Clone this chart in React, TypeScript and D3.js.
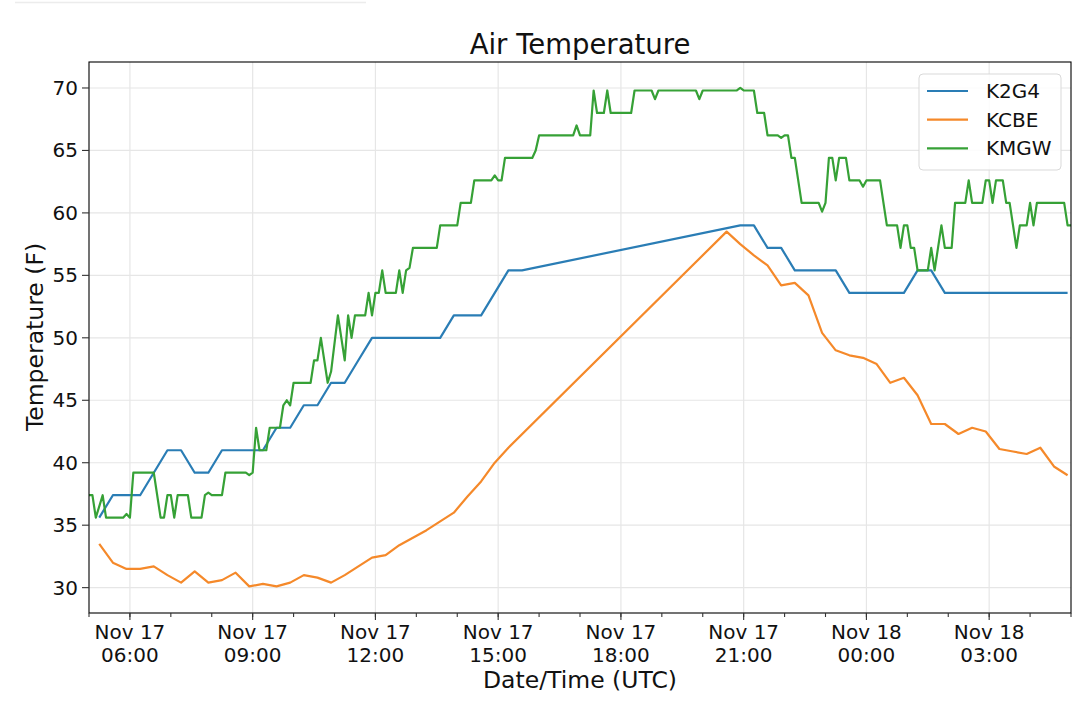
import { useEffect, useRef } from "react";
import * as d3 from "d3";

type Obs = [string, number];

// times are Nov <day>T<hh:mm> UTC, values in deg F
const k2g4Temps: Obs[] = [
  ["17T05:15", 35.6], ["17T05:35", 37.4], ["17T05:55", 37.4], ["17T06:15", 37.4],
  ["17T06:35", 39.2], ["17T06:55", 41.0], ["17T07:15", 41.0], ["17T07:35", 39.2],
  ["17T07:55", 39.2], ["17T08:15", 41.0], ["17T08:35", 41.0], ["17T08:55", 41.0],
  ["17T09:15", 41.0], ["17T09:35", 42.8], ["17T09:55", 42.8], ["17T10:15", 44.6],
  ["17T10:35", 44.6], ["17T10:55", 46.4], ["17T11:15", 46.4], ["17T11:35", 48.2],
  ["17T11:55", 50.0], ["17T12:15", 50.0], ["17T12:35", 50.0], ["17T12:55", 50.0],
  ["17T13:15", 50.0], ["17T13:35", 50.0], ["17T13:55", 51.8], ["17T14:15", 51.8],
  ["17T14:35", 51.8], ["17T14:55", 53.6], ["17T15:15", 55.4], ["17T15:35", 55.4],
  ["17T20:55", 59.0], ["17T21:15", 59.0], ["17T21:35", 57.2], ["17T21:55", 57.2],
  ["17T22:15", 55.4], ["17T22:35", 55.4], ["17T22:55", 55.4], ["17T23:15", 55.4],
  ["17T23:35", 53.6], ["17T23:55", 53.6], ["18T00:15", 53.6], ["18T00:35", 53.6],
  ["18T00:55", 53.6], ["18T01:15", 55.4], ["18T01:35", 55.4], ["18T01:55", 53.6],
  ["18T02:15", 53.6], ["18T02:35", 53.6], ["18T02:55", 53.6], ["18T03:15", 53.6],
  ["18T03:35", 53.6], ["18T03:55", 53.6], ["18T04:15", 53.6], ["18T04:35", 53.6],
  ["18T04:55", 53.6],
];

const kcbeTemps: Obs[] = [
  ["17T05:15", 33.5], ["17T05:35", 32.0], ["17T05:55", 31.5], ["17T06:15", 31.5],
  ["17T06:35", 31.7], ["17T06:55", 31.0], ["17T07:15", 30.4], ["17T07:35", 31.3],
  ["17T07:55", 30.4], ["17T08:15", 30.6], ["17T08:35", 31.2], ["17T08:55", 30.1],
  ["17T09:15", 30.3], ["17T09:35", 30.1], ["17T09:55", 30.4], ["17T10:15", 31.0],
  ["17T10:35", 30.8], ["17T10:55", 30.4], ["17T11:15", 31.0], ["17T11:35", 31.7],
  ["17T11:55", 32.4], ["17T12:15", 32.6], ["17T12:35", 33.4], ["17T12:55", 34.0],
  ["17T13:15", 34.6], ["17T13:35", 35.3], ["17T13:55", 36.0], ["17T14:15", 37.3],
  ["17T14:35", 38.5], ["17T14:55", 40.0], ["17T15:15", 41.2], ["17T20:35", 58.5],
  ["17T20:55", 57.5], ["17T21:15", 56.6], ["17T21:35", 55.8], ["17T21:55", 54.2],
  ["17T22:15", 54.4], ["17T22:35", 53.4], ["17T22:55", 50.4], ["17T23:15", 49.0],
  ["17T23:35", 48.6], ["17T23:55", 48.4], ["18T00:15", 47.9], ["18T00:35", 46.4],
  ["18T00:55", 46.8], ["18T01:15", 45.4], ["18T01:35", 43.1], ["18T01:55", 43.1],
  ["18T02:15", 42.3], ["18T02:35", 42.8], ["18T02:55", 42.5], ["18T03:15", 41.1],
  ["18T03:35", 40.9], ["18T03:55", 40.7], ["18T04:15", 41.2], ["18T04:35", 39.7],
  ["18T04:55", 39.0],
];

const kmgwTemps: Obs[] = [
  ["17T05:00", 37.4], ["17T05:05", 37.4], ["17T05:10", 35.6], ["17T05:20", 37.4],
  ["17T05:25", 35.6], ["17T05:50", 35.6], ["17T05:55", 35.9], ["17T06:00", 35.6],
  ["17T06:05", 39.2], ["17T06:35", 39.2], ["17T06:45", 35.6], ["17T06:50", 35.6],
  ["17T06:55", 37.4], ["17T07:00", 37.4], ["17T07:05", 35.6], ["17T07:10", 37.4],
  ["17T07:25", 37.4], ["17T07:30", 35.6], ["17T07:45", 35.6], ["17T07:50", 37.4],
  ["17T07:55", 37.6], ["17T08:00", 37.4], ["17T08:15", 37.4], ["17T08:20", 39.2],
  ["17T08:50", 39.2], ["17T08:55", 39.0], ["17T09:00", 39.2], ["17T09:05", 42.8],
  ["17T09:10", 41.0], ["17T09:20", 41.0], ["17T09:25", 42.8], ["17T09:40", 42.8],
  ["17T09:45", 44.6], ["17T09:50", 45.0], ["17T09:55", 44.6], ["17T10:00", 46.4],
  ["17T10:25", 46.4], ["17T10:30", 48.2], ["17T10:35", 48.2], ["17T10:40", 50.0],
  ["17T10:50", 46.4], ["17T10:55", 47.3], ["17T11:05", 51.8], ["17T11:15", 48.2],
  ["17T11:20", 51.8], ["17T11:25", 50.0], ["17T11:30", 51.8], ["17T11:45", 51.8],
  ["17T11:50", 53.6], ["17T11:55", 51.8], ["17T12:00", 53.6], ["17T12:05", 53.6],
  ["17T12:10", 55.4], ["17T12:15", 53.6], ["17T12:30", 53.6], ["17T12:35", 55.4],
  ["17T12:40", 53.6], ["17T12:45", 55.4], ["17T12:50", 55.6], ["17T12:55", 57.2],
  ["17T13:30", 57.2], ["17T13:35", 59.0], ["17T14:00", 59.0], ["17T14:05", 60.8],
  ["17T14:20", 60.8], ["17T14:25", 62.6], ["17T14:50", 62.6], ["17T14:55", 63.0],
  ["17T15:00", 62.6], ["17T15:05", 62.6], ["17T15:10", 64.4], ["17T15:50", 64.4],
  ["17T15:55", 65.0], ["17T16:00", 66.2], ["17T16:50", 66.2], ["17T16:55", 67.0],
  ["17T17:00", 66.2], ["17T17:15", 66.2], ["17T17:20", 69.8], ["17T17:25", 68.0],
  ["17T17:35", 68.0], ["17T17:40", 69.8], ["17T17:45", 68.0], ["17T18:15", 68.0],
  ["17T18:20", 69.8], ["17T18:45", 69.8], ["17T18:50", 69.1], ["17T18:55", 69.8],
  ["17T19:50", 69.8], ["17T19:55", 69.1], ["17T20:00", 69.8], ["17T20:50", 69.8],
  ["17T20:55", 70.0], ["17T21:00", 69.8], ["17T21:15", 69.8], ["17T21:20", 68.0],
  ["17T21:30", 68.0], ["17T21:35", 66.2], ["17T21:50", 66.2], ["17T21:55", 66.0],
  ["17T22:00", 66.2], ["17T22:05", 66.2], ["17T22:10", 64.4], ["17T22:15", 64.4],
  ["17T22:25", 60.8], ["17T22:50", 60.8], ["17T22:55", 60.1], ["17T23:00", 60.8],
  ["17T23:05", 64.4], ["17T23:10", 64.4], ["17T23:15", 62.6], ["17T23:20", 64.4],
  ["17T23:30", 64.4], ["17T23:35", 62.6], ["17T23:50", 62.6], ["17T23:55", 62.1],
  ["18T00:00", 62.6], ["18T00:20", 62.6], ["18T00:30", 59.0], ["18T00:45", 59.0],
  ["18T00:50", 57.2], ["18T00:55", 59.0], ["18T01:00", 59.0], ["18T01:05", 57.2],
  ["18T01:10", 57.2], ["18T01:15", 55.4], ["18T01:30", 55.4], ["18T01:35", 57.2],
  ["18T01:40", 55.4], ["18T01:50", 59.0], ["18T01:55", 57.2], ["18T02:05", 57.2],
  ["18T02:10", 60.8], ["18T02:25", 60.8], ["18T02:30", 62.6], ["18T02:35", 60.8],
  ["18T02:50", 60.8], ["18T02:55", 62.6], ["18T03:00", 62.6], ["18T03:05", 60.8],
  ["18T03:10", 62.6], ["18T03:20", 62.6], ["18T03:25", 60.8], ["18T03:30", 60.8],
  ["18T03:40", 57.2], ["18T03:45", 59.0], ["18T03:55", 59.0], ["18T04:00", 60.8],
  ["18T04:05", 59.0], ["18T04:10", 60.8], ["18T04:50", 60.8], ["18T04:55", 59.0],
  ["18T05:00", 59.0],
];

const stations = ["K2G4", "KCBE", "KMGW"];
const stationColors = ["#2a7db5", "#f5892a", "#36a136"];
const yTicks = [30, 35, 40, 45, 50, 55, 60, 65, 70];
const timeRange = ["17T05:00", "18T05:00"];

const parseTime = d3.utcParse("%Y-%m-%dT%H:%M");
const at = (s: string) => parseTime("2019-11-" + s) as Date;

export default function App() {
  const ref = useRef<SVGSVGElement>(null);

  useEffect(() => {
    if (!ref.current) return;
    document.body.style.margin = "0";
    const svg = d3.select(ref.current);
    svg.selectAll("*").remove();
    const width = 1080;
    const height = 714;
    const margin = { top: 62, right: 9, bottom: 101, left: 89 };
    const font = "DejaVu Sans, sans-serif";

    const x = d3
      .scaleUtc()
      .domain([at(timeRange[0]), at(timeRange[1])])
      .range([margin.left, width - margin.right]);
    const y = d3
      .scaleLinear()
      .domain([27.97, 72.08])
      .range([height - margin.bottom, margin.top]);

    svg.append("rect").attr("width", width).attr("height", height).attr("fill", "#fff");
    // faint stray line along the top of the screenshot
    svg.append("line").attr("x1", 15).attr("x2", 366).attr("y1", 2.5).attr("y2", 2.5)
      .attr("stroke", "#ececec").attr("stroke-width", 1.5);

    const majors = d3.utcHour.every(3)!.range(at("17T06:00"), at("18T05:01"));
    const minors = d3.utcHour.every(1)!.range(at("17T05:00"), at("18T05:01"));

    const grid = svg.append("g").attr("stroke", "#e6e6e6").attr("stroke-width", 1.2);
    majors.forEach((t) => {
      grid.append("line").attr("x1", x(t)).attr("x2", x(t))
        .attr("y1", margin.top).attr("y2", height - margin.bottom);
    });
    yTicks.forEach((v) => {
      grid.append("line").attr("x1", margin.left).attr("x2", width - margin.right)
        .attr("y1", y(v)).attr("y2", y(v));
    });

    const line = d3
      .line<Obs>()
      .x((d) => x(at(d[0])))
      .y((d) => y(d[1]));

    [k2g4Temps, kcbeTemps, kmgwTemps].forEach((series, i) => {
      svg.append("path").datum(series).attr("d", line)
        .attr("fill", "none").attr("stroke", stationColors[i])
        .attr("stroke-width", 2.2).attr("stroke-linejoin", "round");
    });

    // frame
    svg.append("rect").attr("x", margin.left).attr("y", margin.top)
      .attr("width", width - margin.left - margin.right)
      .attr("height", height - margin.top - margin.bottom)
      .attr("fill", "none").attr("stroke", "#000").attr("stroke-width", 1.1);

    const axisY0 = height - margin.bottom;
    const ticks = svg.append("g").attr("stroke", "#333").attr("stroke-width", 1.1);
    minors.forEach((t) => {
      ticks.append("line").attr("x1", x(t)).attr("x2", x(t)).attr("y1", axisY0).attr("y2", axisY0 + 4);
    });
    majors.forEach((t) => {
      ticks.append("line").attr("x1", x(t)).attr("x2", x(t)).attr("y1", axisY0).attr("y2", axisY0 + 7);
    });
    yTicks.forEach((v) => {
      ticks.append("line").attr("x1", margin.left - 7).attr("x2", margin.left).attr("y1", y(v)).attr("y2", y(v));
    });

    const fmtDay = d3.utcFormat("%b %d");
    const fmtHour = d3.utcFormat("%H:%M");
    const xl = svg.append("g").attr("font-family", font).attr("font-size", 20)
      .attr("text-anchor", "middle").attr("fill", "#111");
    majors.forEach((t) => {
      const txt = xl.append("text").attr("x", x(t)).attr("y", axisY0 + 26);
      txt.append("tspan").attr("x", x(t)).text(fmtDay(t));
      txt.append("tspan").attr("x", x(t)).attr("dy", 23).text(fmtHour(t));
    });

    svg.append("g").attr("font-family", font).attr("font-size", 20)
      .attr("text-anchor", "end").attr("fill", "#111")
      .selectAll("text").data(yTicks).enter().append("text")
      .attr("x", margin.left - 11).attr("y", (d) => y(d)).attr("dy", "0.35em")
      .text((d) => d);

    svg.append("text").attr("x", 580).attr("y", 54).attr("text-anchor", "middle")
      .attr("font-family", font).attr("font-size", 27.5).attr("fill", "#111")
      .text("Air Temperature");
    svg.append("text").attr("x", 580).attr("y", 688).attr("text-anchor", "middle")
      .attr("font-family", font).attr("font-size", 23.5).attr("fill", "#111")
      .text("Date/Time (UTC)");
    svg.append("text").attr("transform", "translate(43,337) rotate(-90)")
      .attr("text-anchor", "middle").attr("font-family", font).attr("font-size", 23.5)
      .attr("fill", "#111").text("Temperature (F)");

    const legend = svg.append("g");
    legend.append("rect").attr("x", 919).attr("y", 74).attr("width", 142).attr("height", 96)
      .attr("rx", 4).attr("fill", "#fff").attr("fill-opacity", 0.85)
      .attr("stroke", "#d9d9d9").attr("stroke-width", 1);
    stations.forEach((name, i) => {
      const ly = 91 + i * 28.7;
      legend.append("line").attr("x1", 927).attr("x2", 968).attr("y1", ly).attr("y2", ly)
        .attr("stroke", stationColors[i]).attr("stroke-width", 2.2);
      legend.append("text").attr("x", 986).attr("y", ly).attr("dy", "0.35em")
        .attr("font-family", font).attr("font-size", 20).attr("fill", "#111").text(name);
    });
  }, []);

  return <svg ref={ref} width={1080} height={714} style={{ display: "block" }} />;
}
